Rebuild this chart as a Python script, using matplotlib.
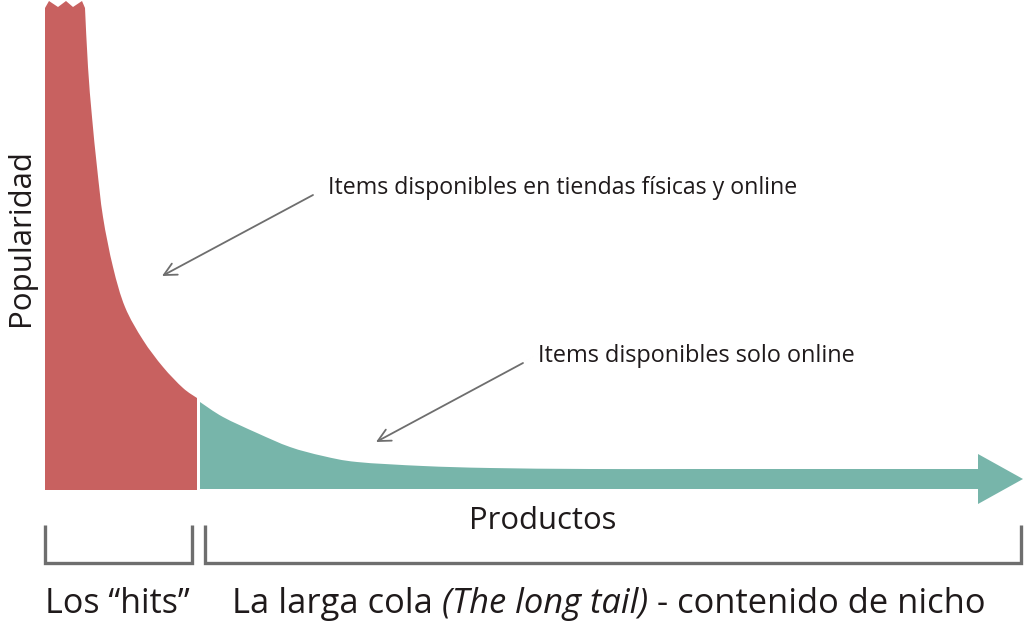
import matplotlib
matplotlib.use("Agg")
import matplotlib.pyplot as plt
from matplotlib.patches import PathPatch
from matplotlib.path import Path

# ---------------- data ----------------
# "hits" segment: zig-zag top (cut-off peak) then the decaying curve
hits_top_x = [45, 49, 58, 66, 73, 82]
hits_top_pop = [482, 489, 483, 489, 483, 489]
hits_x = [85, 88, 92, 97, 103, 113, 125, 143, 163, 183, 197]
hits_pop = [482, 423, 373, 323, 273, 223, 183, 150, 123, 102, 92]

# long tail segment
tail_x = [200, 223, 257, 290, 323, 357, 423, 490, 590, 700, 978]
tail_pop = [88, 73, 57, 43, 34, 28, 24, 22, 21, 21, 21]
tail_bottom = 1
arrow_tip_x = 1023

label_y = "Popularidad"
label_x = "Productos"
ann_store = "Items disponibles en tiendas físicas y online"
ann_online = "Items disponibles solo online"
hits_label = "Los \u201chits\u201d"
tail_label_parts = ["La larga cola ", "(The long tail)", " - contenido de nicho"]

RED = "#C86160"
TEAL = "#77B5AA"
GRAY = "#6E6E6E"
TXT = "#1f1a1b"
FONT = "Open Sans"

W, H = 1024, 627
fig = plt.figure(figsize=(W / 100, H / 100), dpi=100)
ax = fig.add_axes([0, 0, 1, 1])
BASE = 490  # pixel row of baseline
ax.set_xlim(0, W)
ax.set_ylim(BASE - H, BASE)
ax.axis("off")

def py(y_pix):
    return BASE - y_pix

def smooth_segments(xs, ys):
    """Catmull-Rom through the points, returned as cubic bezier path pieces."""
    pts = list(zip(xs, ys))
    verts, codes = [], []
    n = len(pts)
    for i in range(n - 1):
        p0 = pts[i - 1] if i > 0 else pts[i]
        p1 = pts[i]
        p2 = pts[i + 1]
        p3 = pts[i + 2] if i + 2 < n else pts[i + 1]
        c1 = (p1[0] + (p2[0] - p0[0]) / 6, p1[1] + (p2[1] - p0[1]) / 6)
        c2 = (p2[0] - (p3[0] - p1[0]) / 6, p2[1] - (p3[1] - p1[1]) / 6)
        verts += [c1, c2, p2]
        codes += [Path.CURVE4] * 3
    return verts, codes

# red "hits" shape
verts = [(hits_top_x[0], 0)]
codes = [Path.MOVETO]
for x, y in zip(hits_top_x, hits_top_pop):
    verts.append((x, y)); codes.append(Path.LINETO)
verts.append((hits_x[0], hits_pop[0])); codes.append(Path.LINETO)
v, c = smooth_segments(hits_x, hits_pop)
verts += v; codes += c
verts += [(hits_x[-1], 0), (hits_top_x[0], 0)]
codes += [Path.LINETO, Path.CLOSEPOLY]
ax.add_patch(PathPatch(Path(verts, codes), facecolor=RED, edgecolor="none"))

# teal long tail with arrow head
shaft = tail_pop[-1]
mid = (shaft + tail_bottom) / 2
head_half = 25
verts = [(tail_x[0], tail_bottom), (tail_x[0], tail_pop[0])]
codes = [Path.MOVETO, Path.LINETO]
v, c = smooth_segments(tail_x, tail_pop)
verts += v; codes += c
verts += [(tail_x[-1], mid + head_half), (arrow_tip_x, mid),
          (tail_x[-1], mid - head_half), (tail_x[-1], tail_bottom), (tail_x[0], tail_bottom)]
codes += [Path.LINETO] * 4 + [Path.CLOSEPOLY]
ax.add_patch(PathPatch(Path(verts, codes), facecolor=TEAL, edgecolor="none"))

# annotation arrows
arrow_kw = dict(arrowstyle="->,head_length=0.9,head_width=0.45", color=GRAY, lw=1.3,
                shrinkA=0, shrinkB=0)
ax.annotate("", xy=(162, py(276)), xytext=(313, py(195)), arrowprops=arrow_kw)
ax.annotate("", xy=(376, py(442)), xytext=(523, py(363)), arrowprops=arrow_kw)

ax.text(328, py(188), ann_store, fontsize=16.7, family=FONT, color=TXT, va="center", ha="left")
ax.text(538, py(356), ann_online, fontsize=16.9, family=FONT, color=TXT, va="center", ha="left")

ax.text(21, py(238), label_y, fontsize=22.5, family=FONT, color=TXT, rotation=90,
        va="center", ha="center")
ax.text(543, py(521), label_x, fontsize=22.3, family=FONT, color=TXT, va="center", ha="center")

# brackets derived from segment ranges
def bracket(x0, x1):
    ax.plot([x0, x0, x1, x1], [py(525), py(563), py(563), py(525)], color=GRAY,
            lw=2.4, solid_joinstyle="miter", solid_capstyle="butt")

bracket(hits_top_x[0], hits_x[-1] - 5)
bracket(tail_x[0] + 5, arrow_tip_x - 2)

ax.text(45, py(604), hits_label, fontsize=24.5, family=FONT, color=TXT, va="center", ha="left")

fig.canvas.draw()
r = fig.canvas.get_renderer()
x = 232
for i, part in enumerate(tail_label_parts):
    t = ax.text(x, py(604), part, fontsize=24.8, family=FONT, color=TXT, va="center", ha="left",
                style="italic" if i == 1 else "normal")
    bb = t.get_window_extent(renderer=r)
    x = ax.transData.inverted().transform((bb.x1, bb.y0))[0]

fig.savefig("out.png", dpi=100)
